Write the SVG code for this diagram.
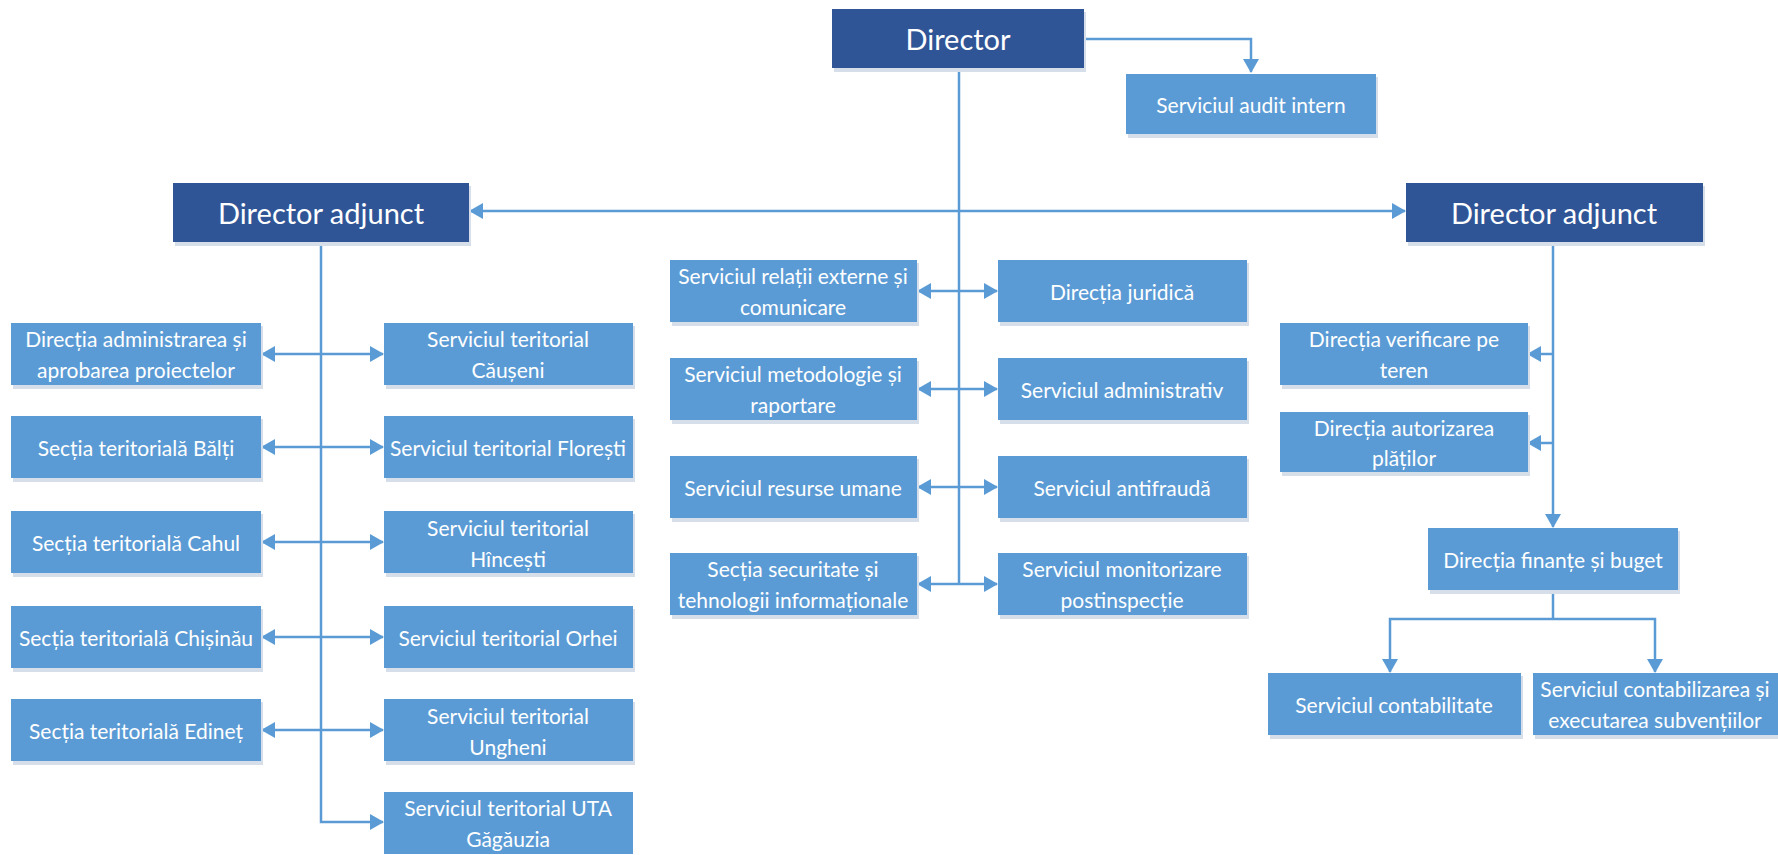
<svg xmlns="http://www.w3.org/2000/svg" width="1778" height="855" viewBox="0 0 1778 855">
<defs>
<style>
.bg{fill:#ffffff}
.dk{fill:#2F5597}
.lt{fill:#5B9BD5}
.sh{fill:#d6deea}
.t{font-family:Lato,"Liberation Sans",sans-serif;font-size:21px;fill:#ffffff;text-anchor:middle;dominant-baseline:central}
.tb{font-family:Lato,"Liberation Sans",sans-serif;font-size:29px;fill:#ffffff;text-anchor:middle;dominant-baseline:central}
.c{fill:none;stroke:#5B9BD5;stroke-width:2.5}
.a2{marker-start:url(#ah);marker-end:url(#ah)}
.a1{marker-end:url(#ah)}
</style>
<marker id="ah" markerUnits="userSpaceOnUse" markerWidth="14" markerHeight="16" refX="13" refY="8" orient="auto-start-reverse" viewBox="0 0 14 16">
<path d="M0,0 L14,8 L0,16 z" fill="#5B9BD5"/>
</marker>
</defs>
<rect class="bg" x="0" y="0" width="1778" height="855"/>

<g id="connectors">
<path class="c a1" d="M1084,39 H1251 V72"/>
<path class="c a2" d="M470,211 H1405"/>
<path class="c" d="M959,68 V584"/>
<path class="c a2" d="M918,291 H997"/>
<path class="c a2" d="M918,389 H997"/>
<path class="c a2" d="M918,487 H997"/>
<path class="c a2" d="M918,584 H997"/>
<path class="c a1" d="M321,242 V822 H383"/>
<path class="c a2" d="M262,354 H383"/>
<path class="c a2" d="M262,447 H383"/>
<path class="c a2" d="M262,542 H383"/>
<path class="c a2" d="M262,637 H383"/>
<path class="c a2" d="M262,730 H383"/>
<path class="c a1" d="M1553,242 V527"/>
<path class="c a1" d="M1553,354 H1528"/>
<path class="c a1" d="M1553,443 H1528"/>
<path class="c" d="M1553,590 V619"/>
<path class="c a2" d="M1390,672 V619 H1655 V672"/>
</g>

<g id="director">
<rect class="sh" x="834" y="12" width="252" height="60"/>
<rect class="dk" x="832" y="9" width="252" height="59"/>
<text class="tb" x="958" y="38">Director</text>
</g>
<g id="audit">
<rect class="sh" x="1128" y="77" width="250" height="61"/>
<rect class="lt" x="1126" y="74" width="250" height="60"/>
<text class="t" x="1251" y="104">Serviciul audit intern</text>
</g>
<g id="director-adjunct-left">
<rect class="sh" x="175" y="186" width="296" height="60"/>
<rect class="dk" x="173" y="183" width="296" height="59"/>
<text class="tb" x="321" y="212">Director adjunct</text>
</g>
<g id="director-adjunct-right">
<rect class="sh" x="1408" y="186" width="297" height="60"/>
<rect class="dk" x="1406" y="183" width="297" height="59"/>
<text class="tb" x="1554" y="212">Director adjunct</text>
</g>

<g id="relatii-externe">
<rect class="sh" x="672" y="263" width="247" height="63"/>
<rect class="lt" x="670" y="260" width="247" height="62"/>
<text class="t" x="793" y="275">Serviciul relații externe și</text>
<text class="t" x="793" y="306">comunicare</text>
</g>
<g id="juridica">
<rect class="sh" x="1000" y="263" width="249" height="63"/>
<rect class="lt" x="998" y="260" width="249" height="62"/>
<text class="t" x="1122" y="291">Direcția juridică</text>
</g>
<g id="metodologie">
<rect class="sh" x="672" y="361" width="247" height="63"/>
<rect class="lt" x="670" y="358" width="247" height="62"/>
<text class="t" x="793" y="373">Serviciul metodologie și</text>
<text class="t" x="793" y="404">raportare</text>
</g>
<g id="administrativ">
<rect class="sh" x="1000" y="361" width="249" height="63"/>
<rect class="lt" x="998" y="358" width="249" height="62"/>
<text class="t" x="1122" y="389">Serviciul administrativ</text>
</g>
<g id="resurse-umane">
<rect class="sh" x="672" y="459" width="247" height="63"/>
<rect class="lt" x="670" y="456" width="247" height="62"/>
<text class="t" x="793" y="487">Serviciul resurse umane</text>
</g>
<g id="antifrauda">
<rect class="sh" x="1000" y="459" width="249" height="63"/>
<rect class="lt" x="998" y="456" width="249" height="62"/>
<text class="t" x="1122" y="487">Serviciul antifraudă</text>
</g>
<g id="securitate">
<rect class="sh" x="672" y="556" width="247" height="63"/>
<rect class="lt" x="670" y="553" width="247" height="62"/>
<text class="t" x="793" y="568">Secția securitate și</text>
<text class="t" x="793" y="599">tehnologii informaționale</text>
</g>
<g id="monitorizare">
<rect class="sh" x="1000" y="556" width="249" height="63"/>
<rect class="lt" x="998" y="553" width="249" height="62"/>
<text class="t" x="1122" y="568">Serviciul monitorizare</text>
<text class="t" x="1122" y="599">postinspecție</text>
</g>

<g id="administrarea">
<rect class="sh" x="13" y="326" width="250" height="63"/>
<rect class="lt" x="11" y="323" width="250" height="62"/>
<text class="t" x="136" y="338">Direcția administrarea și</text>
<text class="t" x="136" y="369">aprobarea proiectelor</text>
</g>
<g id="causeni">
<rect class="sh" x="386" y="326" width="249" height="63"/>
<rect class="lt" x="384" y="323" width="249" height="62"/>
<text class="t" x="508" y="338">Serviciul teritorial</text>
<text class="t" x="508" y="369">Căușeni</text>
</g>
<g id="balti">
<rect class="sh" x="13" y="419" width="250" height="63"/>
<rect class="lt" x="11" y="416" width="250" height="62"/>
<text class="t" x="136" y="447">Secția teritorială Bălți</text>
</g>
<g id="floresti">
<rect class="sh" x="386" y="419" width="249" height="63"/>
<rect class="lt" x="384" y="416" width="249" height="62"/>
<text class="t" x="508" y="447">Serviciul teritorial Florești</text>
</g>
<g id="cahul">
<rect class="sh" x="13" y="514" width="250" height="63"/>
<rect class="lt" x="11" y="511" width="250" height="62"/>
<text class="t" x="136" y="542">Secția teritorială Cahul</text>
</g>
<g id="hincesti">
<rect class="sh" x="386" y="514" width="249" height="63"/>
<rect class="lt" x="384" y="511" width="249" height="62"/>
<text class="t" x="508" y="527">Serviciul teritorial</text>
<text class="t" x="508" y="558">Hîncești</text>
</g>
<g id="chisinau">
<rect class="sh" x="13" y="609" width="250" height="63"/>
<rect class="lt" x="11" y="606" width="250" height="62"/>
<text class="t" x="136" y="637">Secția teritorială Chișinău</text>
</g>
<g id="orhei">
<rect class="sh" x="386" y="609" width="249" height="63"/>
<rect class="lt" x="384" y="606" width="249" height="62"/>
<text class="t" x="508" y="637">Serviciul teritorial Orhei</text>
</g>
<g id="edinet">
<rect class="sh" x="13" y="702" width="250" height="63"/>
<rect class="lt" x="11" y="699" width="250" height="62"/>
<text class="t" x="136" y="730">Secția teritorială Edineț</text>
</g>
<g id="ungheni">
<rect class="sh" x="386" y="702" width="249" height="63"/>
<rect class="lt" x="384" y="699" width="249" height="62"/>
<text class="t" x="508" y="715">Serviciul teritorial</text>
<text class="t" x="508" y="746">Ungheni</text>
</g>
<g id="gagauzia">
<rect class="lt" x="384" y="792" width="249" height="62"/>
<text class="t" x="508" y="807">Serviciul teritorial UTA</text>
<text class="t" x="508" y="838">Găgăuzia</text>
</g>

<g id="verificare">
<rect class="sh" x="1282" y="326" width="248" height="63"/>
<rect class="lt" x="1280" y="323" width="248" height="62"/>
<text class="t" x="1404" y="338">Direcția verificare pe</text>
<text class="t" x="1404" y="369">teren</text>
</g>
<g id="autorizarea">
<rect class="sh" x="1282" y="415" width="248" height="61"/>
<rect class="lt" x="1280" y="412" width="248" height="60"/>
<text class="t" x="1404" y="427">Direcția autorizarea</text>
<text class="t" x="1404" y="457">plăților</text>
</g>
<g id="finante">
<rect class="sh" x="1430" y="531" width="250" height="63"/>
<rect class="lt" x="1428" y="528" width="250" height="62"/>
<text class="t" x="1553" y="559">Direcția finanțe și buget</text>
</g>
<g id="contabilitate">
<rect class="sh" x="1270" y="676" width="253" height="63"/>
<rect class="lt" x="1268" y="673" width="253" height="62"/>
<text class="t" x="1394" y="704">Serviciul contabilitate</text>
</g>
<g id="subventii">
<rect class="sh" x="1535" y="676" width="243" height="63"/>
<rect class="lt" x="1533" y="673" width="245" height="62"/>
<text class="t" x="1655" y="688">Serviciul contabilizarea și</text>
<text class="t" x="1655" y="719">executarea subvențiilor</text>
</g>
</svg>
